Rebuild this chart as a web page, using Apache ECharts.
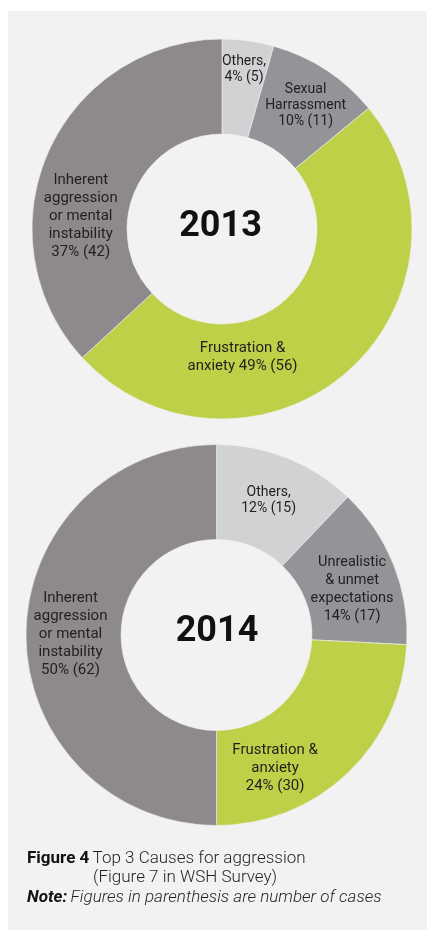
<!DOCTYPE html>
<html>
<head>
<meta charset="utf-8">
<script src="https://cdn.jsdelivr.net/npm/echarts@6/dist/echarts.min.js"></script>
<style>
  html, body { margin: 0; padding: 0; background: #ffffff; }
  #panel { position: absolute; left: 8px; top: 11px; width: 419px; height: 919px; background: #f2f2f2; }
  #chart { position: absolute; left: 0; top: 0; width: 427px; height: 933px; }
</style>
</head>
<body>
<div id="panel"></div>
<div id="chart"></div>
<script>
// ---- Data ----
const categories2013 = ['Others,', 'Sexual\nHarrassment', 'Frustration &\nanxiety', 'Inherent\naggression\nor mental\ninstability'];
const cases2013 = [5, 11, 56, 42];
const joiner2013 = ['\n', '\n', ' ', '\n'];

const categories2014 = ['Others,', 'Unrealistic\n& unmet\nexpectations', 'Frustration &\nanxiety', 'Inherent\naggression\nor mental\ninstability'];
const cases2014 = [15, 17, 30, 62];
const joiner2014 = ['\n', '\n', '\n', '\n'];

const years = ['2013', '2014'];

// ---- Styling ----
const sliceColors = ['#d1d2d4', '#939497', '#bdd048', '#8d898c'];
const labelSizes2013 = [[14, 16], [14, 16], [15, 18], [15, 18]];
const labelSizes2014 = [[14, 16], [14.5, 18], [15, 18], [15, 18]];
const labelShift2013 = [[2, -15], [4, -2], [-75, 19], [-8, 46]];
const labelShift2014 = [[-2, 1], [0, 9], [-42, 27], [0, -1]];

function buildData(cats, vals, sizes) {
  return cats.map((c, i) => ({
    name: c,
    value: vals[i],
    itemStyle: { color: sliceColors[i] },
    label: { fontSize: sizes[i][0], lineHeight: sizes[i][1] }
  }));
}

function pieSeries(cats, vals, joiner, sizes, shifts, center, radius) {
  return {
    type: 'pie',
    center: center,
    radius: radius,
    startAngle: 90,
    clockwise: true,
    percentPrecision: 0,
    avoidLabelOverlap: false,
    silent: true,
    itemStyle: { borderColor: '#f2f2f2', borderWidth: 0.6 },
    label: {
      show: true,
      position: 'inside',
      color: '#231f20',
      fontFamily: 'Roboto',
      align: 'center',
      formatter: p => p.name + joiner[p.dataIndex] + p.percent + '% (' + p.value + ')'
    },
    labelLine: { show: false },
    labelLayout: p => ({ dx: shifts[p.dataIndex][0], dy: shifts[p.dataIndex][1] }),
    data: buildData(cats, vals, sizes)
  };
}

const chart = echarts.init(document.getElementById('chart'), null, { renderer: 'canvas' });

const option = {
  backgroundColor: 'transparent',
  animation: false,
  title: [
    { text: years[0], left: 220.5, top: 227, padding: 0, textAlign: 'center', textVerticalAlign: 'middle',
      textStyle: { fontFamily: 'Roboto', fontWeight: 'bold', fontSize: 36, color: '#111111' } },
    { text: years[1], left: 217, top: 632, padding: 0, textAlign: 'center', textVerticalAlign: 'middle',
      textStyle: { fontFamily: 'Roboto', fontWeight: 'bold', fontSize: 36, color: '#111111' } }
  ],
  series: [
    pieSeries(categories2013, cases2013, joiner2013, labelSizes2013, labelShift2013, [222, 229], [95, 190]),
    pieSeries(categories2014, cases2014, joiner2014, labelSizes2014, labelShift2014, [216.5, 635], [95.5, 190.5])
  ],
  graphic: [
    { type: 'text', left: 27, top: 850,
      style: { text: '{b|Figure 4} {l|Top 3 Causes for aggression}',
        rich: {
          b: { fontFamily: 'Roboto', fontWeight: 'bold', fontSize: 17, fill: '#111111' },
          l: { fontFamily: 'Roboto', fontWeight: 300, fontSize: 17, fill: '#231f20' }
        } } },
    { type: 'text', left: 93, top: 869,
      style: { text: '(Figure 7 in WSH Survey)', fontFamily: 'Roboto', fontWeight: 300, fontSize: 17, fill: '#231f20' } },
    { type: 'text', left: 27, top: 889,
      style: { text: '{b|Note:} {l|Figures in parenthesis are number of cases}',
        rich: {
          b: { fontFamily: 'Roboto', fontWeight: 'bold', fontStyle: 'italic', fontSize: 17, fill: '#111111' },
          l: { fontFamily: 'Roboto', fontWeight: 300, fontStyle: 'italic', fontSize: 17, fill: '#231f20' }
        } } }
  ]
};

chart.setOption(option);
</script>
</body>
</html>
